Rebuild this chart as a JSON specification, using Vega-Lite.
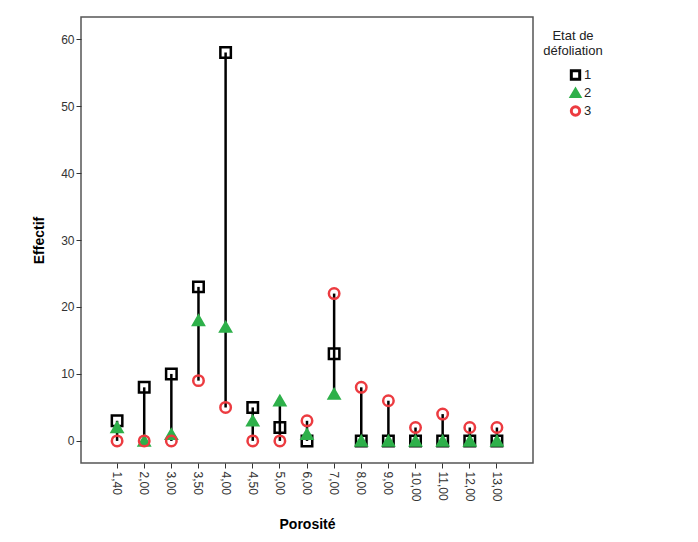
{
  "$schema": "https://vega.github.io/schema/vega-lite/v6.json",
  "autosize": "none",
  "width": 452,
  "height": 446,
  "padding": {"left": 81, "top": 17, "right": 165, "bottom": 79},
  "background": "white",
  "config": {
    "font": "Liberation Sans",
    "view": {"stroke": "#555555", "strokeWidth": 1.5},
    "axis": {"grid": false, "domain": false, "tickColor": "#333333", "tickSize": 5, "labelColor": "#333333", "labelFontSize": 12, "titleFontSize": 14, "titleFontWeight": "bold", "titleColor": "#000000"},
    "legend": {"titleFontWeight": "normal", "titleFontSize": 13, "titleColor": "#222222", "titleAlign": "center", "titleAnchor": "middle", "titleLineHeight": 15, "titlePadding": 10.5, "labelFontSize": 13, "labelColor": "#222222", "labelOffset": 2, "rowPadding": -3, "symbolSize": 70, "symbolStrokeWidth": 3, "symbolOffset": 15}
  },
  "data": {"values": [
    {"por": "1,40", "etat": "1", "n": 3},
    {"por": "2,00", "etat": "1", "n": 8},
    {"por": "3,00", "etat": "1", "n": 10},
    {"por": "3,50", "etat": "1", "n": 23},
    {"por": "4,00", "etat": "1", "n": 58},
    {"por": "4,50", "etat": "1", "n": 5},
    {"por": "5,00", "etat": "1", "n": 2},
    {"por": "6,00", "etat": "1", "n": 0},
    {"por": "7,00", "etat": "1", "n": 13},
    {"por": "8,00", "etat": "1", "n": 0},
    {"por": "9,00", "etat": "1", "n": 0},
    {"por": "10,00", "etat": "1", "n": 0},
    {"por": "11,00", "etat": "1", "n": 0},
    {"por": "12,00", "etat": "1", "n": 0},
    {"por": "13,00", "etat": "1", "n": 0},
    {"por": "1,40", "etat": "2", "n": 2},
    {"por": "2,00", "etat": "2", "n": 0},
    {"por": "3,00", "etat": "2", "n": 1},
    {"por": "3,50", "etat": "2", "n": 18},
    {"por": "4,00", "etat": "2", "n": 17},
    {"por": "4,50", "etat": "2", "n": 3},
    {"por": "5,00", "etat": "2", "n": 6},
    {"por": "6,00", "etat": "2", "n": 1},
    {"por": "7,00", "etat": "2", "n": 7},
    {"por": "8,00", "etat": "2", "n": 0},
    {"por": "9,00", "etat": "2", "n": 0},
    {"por": "10,00", "etat": "2", "n": 0},
    {"por": "11,00", "etat": "2", "n": 0},
    {"por": "12,00", "etat": "2", "n": 0},
    {"por": "13,00", "etat": "2", "n": 0},
    {"por": "1,40", "etat": "3", "n": 0},
    {"por": "2,00", "etat": "3", "n": 0},
    {"por": "3,00", "etat": "3", "n": 0},
    {"por": "3,50", "etat": "3", "n": 9},
    {"por": "4,00", "etat": "3", "n": 5},
    {"por": "4,50", "etat": "3", "n": 0},
    {"por": "5,00", "etat": "3", "n": 0},
    {"por": "6,00", "etat": "3", "n": 3},
    {"por": "7,00", "etat": "3", "n": 22},
    {"por": "8,00", "etat": "3", "n": 8},
    {"por": "9,00", "etat": "3", "n": 6},
    {"por": "10,00", "etat": "3", "n": 2},
    {"por": "11,00", "etat": "3", "n": 4},
    {"por": "12,00", "etat": "3", "n": 2},
    {"por": "13,00", "etat": "3", "n": 2}
  ]},
  "encoding": {
    "x": {
      "field": "por", "type": "ordinal", "sort": null, "title": "Porosité",
      "scale": {"type": "band", "paddingInner": 0, "paddingOuter": 0.83},
      "axis": {"labelAngle": 90, "labelAlign": "left", "labelBaseline": "middle", "labelPadding": 3, "titlePadding": 16}
    }
  },
  "layer": [
    {
      "mark": {"type": "rule", "color": "#000000", "strokeWidth": 2.5},
      "encoding": {
        "y": {"aggregate": "min", "field": "n", "type": "quantitative", "title": "Effectif",
              "scale": {"domain": [-3.3, 63.3], "nice": false, "zero": false},
              "axis": {"values": [0, 10, 20, 30, 40, 50, 60], "titlePadding": 14}},
        "y2": {"aggregate": "max", "field": "n"}
      }
    },
    {
      "mark": {"type": "point", "size": 110, "strokeWidth": 2.5, "opacity": 1},
      "encoding": {
        "y": {"field": "n", "type": "quantitative"},
        "shape": {"field": "etat", "type": "nominal", "title": ["Etat de", "défoliation"],
                  "scale": {"domain": ["1", "2", "3"], "range": ["square", "triangle-up", "circle"]},
                  "legend": {"orient": "none", "legendX": 462, "legendY": 13}},
        "stroke": {"field": "etat", "type": "nominal", "title": ["Etat de", "défoliation"],
                   "scale": {"domain": ["1", "2", "3"], "range": ["#000000", "#2eb04a", "#ec3b40"]},
                   "legend": {"orient": "none", "legendX": 462, "legendY": 13}},
        "fill": {"field": "etat", "type": "nominal", "title": ["Etat de", "défoliation"],
                 "scale": {"domain": ["1", "2", "3"], "range": ["transparent", "#2eb04a", "transparent"]},
                 "legend": {"orient": "none", "legendX": 462, "legendY": 13}}
      }
    }
  ]
}
